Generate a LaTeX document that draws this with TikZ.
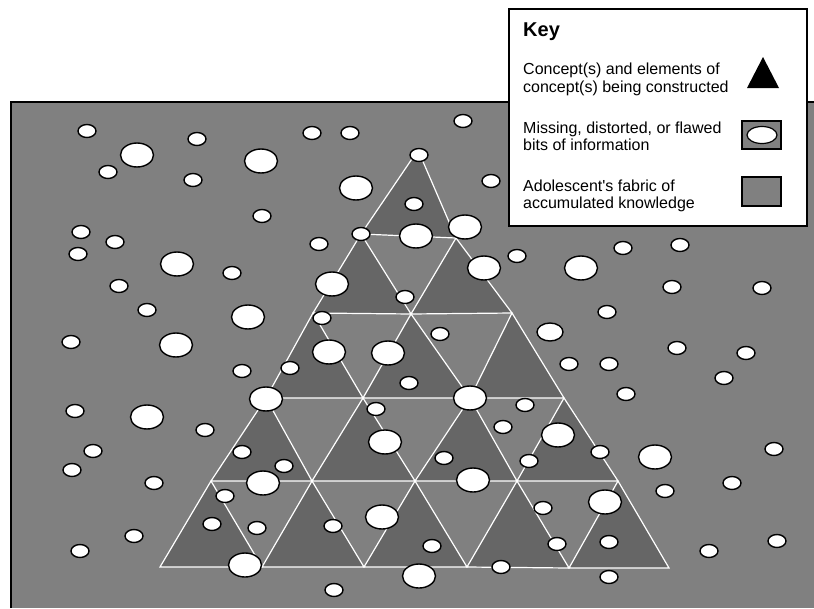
\documentclass[tikz,border=0pt]{standalone}
\usepackage{fontspec}
\setmainfont{Liberation Sans}
\usetikzlibrary{positioning}
\definecolor{FabricGray}{RGB}{128,128,128}
\definecolor{ConceptGray}{RGB}{102,102,102}
\tikzset{
  concept/.style={fill=ConceptGray, draw=white, line width=1.2pt},
  bit/.style={draw=black, fill=white, line width=1.4pt},
  keyicon/.style={draw=black, line width=1.2pt},
  keytext/.style={font=\fontsize{16}{17.5}\selectfont, align=left, anchor=base west, inner sep=0pt},
}

\begin{document}
\begin{tikzpicture}[x=1pt, y=-1pt]
  \useasboundingbox (0,0) rectangle (814,608);

  % Fabric of accumulated knowledge
  \fill[FabricGray] (11,102) rectangle (814,608);
  \draw[line width=1.3pt] (11,608) -- (11,102) -- (814,102);

  % Lattice vertices, row by row
  \coordinate (v-0-0) at (418,150);
  \foreach \x/\y [count=\i from 0] in {361/234, 456/238}
    \coordinate (v-1-\i) at (\x,\y);
  \foreach \x/\y [count=\i from 0] in {313/313, 411/314, 512/313}
    \coordinate (v-2-\i) at (\x,\y);
  \foreach \x/\y [count=\i from 0] in {266/398, 363/398, 470/398, 564/398}
    \coordinate (v-3-\i) at (\x,\y);
  \foreach \x/\y [count=\i from 0] in {211/481, 312/481, 415/481, 517/481, 618/481}
    \coordinate (v-4-\i) at (\x,\y);
  \foreach \x/\y [count=\i from 0] in {160/567, 262/567, 364/567, 467/567, 569/568, 669/568}
    \coordinate (v-5-\i) at (\x,\y);

  % Concept being constructed
  \foreach \r in {0,...,4} {
    \pgfmathtruncatemacro\n{\r+1}
    \foreach \i in {0,...,\r} {
      \pgfmathtruncatemacro\j{\i+1}
      \filldraw[concept] (v-\r-\i) -- (v-\n-\i) -- (v-\n-\j) -- cycle;
    }
  }

  % Missing, distorted or flawed bits
  \foreach \x/\y in {87/131, 197/139, 108/172, 193/180, 262/216, 81/232, 115/242, 78/254,
      232/273, 119/286, 147/310, 71/342, 242/371, 75/411, 205/430, 93/451, 242/452, 72/470,
      154/483, 225/496, 212/524, 257/528, 134/536, 80/551,
      312/133, 350/133, 463/121, 419/155, 491/181, 414/204, 361/234, 319/244, 517/256,
      405/297, 607/312, 322/318, 440/334, 290/368, 569/364, 609/364, 409/383, 376/409,
      525/405, 626/394, 503/427, 284/466, 444/458, 600/452, 529/461, 665/491, 543/508,
      333/526, 432/546, 557/544, 609/542, 501/567, 609/577, 334/590,
      623/248, 680/245, 672/287, 762/288, 677/348, 746/353, 724/378, 774/449, 732/483,
      709/551, 777/541}
    \draw[bit] (\x,\y) ellipse [x radius=9, y radius=6.5];
  \draw[bit] (550,332) ellipse [x radius=13, y radius=9];
  \foreach \x/\y in {137/155, 261/161, 177/264, 248/317, 176/345, 266/399, 147/417, 263/483,
      245/565, 356/188, 416/236, 465/227, 484/268, 581/268, 332/284, 329/352, 388/353,
      470/398, 385/442, 558/435, 655/457, 473/480, 605/502, 382/517, 419/576}
    \draw[bit] (\x,\y) ellipse [x radius=16.5, y radius=12];

  % Key
  \draw[line width=1.3pt, fill=white] (509,9) rectangle (807,226);
  \node[font=\fontsize{20}{24}\bfseries, anchor=base west, inner sep=0pt] (key) at (523,36) {Key};
  \node[keytext] (key-concept) at (523,92) {Concept(s) and elements of\\concept(s) being constructed};
  \node[keytext] (key-bits) at (523,150.5) {Missing, distorted, or flawed\\bits of information};
  \node[keytext] (key-fabric) at (523,208.5) {Adolescent\textquotesingle s fabric of\\accumulated knowledge};
  \fill (763,57) -- (747,88) -- (779,88) -- cycle;
  \draw[keyicon, fill=FabricGray] (742,121) rectangle (781,149);
  \draw[bit, line width=1.2pt] (762,135) ellipse [x radius=15, y radius=8.5];
  \draw[keyicon, fill=FabricGray] (742,177) rectangle (781,206);
\end{tikzpicture}
\end{document}
